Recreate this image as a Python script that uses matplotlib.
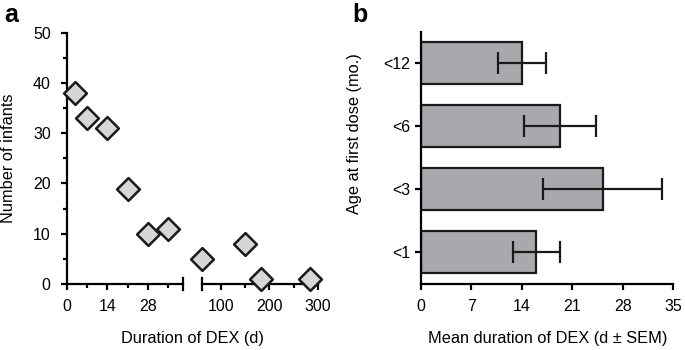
import matplotlib.pyplot as plt
import numpy as np

plt.rcParams["font.family"] = ["Liberation Sans", "DejaVu Sans"]

# panel a: duration of DEX (d) vs number of infants
dur_short = [3, 7, 14, 21, 28, 35]
n_short = [38, 33, 31, 19, 10, 11]
dur_long = [60, 150, 182, 285]
n_long = [5, 8, 1, 1]

# panel b: mean duration by age at first dose
age_groups = ["<1", "<3", "<6", "<12"]
mean_dur = [16.0, 25.2, 19.3, 14.0]
sem_dur = [3.3, 8.3, 5.0, 3.3]

fs = 11.5
lw = 1.6

fig = plt.figure(figsize=(6.85, 3.5), dpi=100)

bottom = (350 - 284) / 350
height = (284 - 32.7) / 350
ax1 = fig.add_axes([66.7 / 685, bottom, 116 / 685, height])
ax2 = fig.add_axes([201.7 / 685, bottom, 116 / 685, height], sharey=ax1)

mk = dict(marker="D", s=135, facecolor="#d6d6d6", edgecolor="#1a1a1a",
          linewidth=1.8, clip_on=False, zorder=5)
ax1.scatter(dur_short, n_short, **mk)
ax2.scatter(dur_long, n_long, **mk)

ax1.set_xlim(0, 40)
ax2.set_xlim(60, 300)
ax1.set_ylim(0, 50)
ax1.set_yticks(np.arange(0, 51, 10))
ax1.set_yticks(np.arange(5, 50, 10), minor=True)
ax1.set_xticks([0, 14, 28])
ax1.set_xticks([7, 21, 35], minor=True)
ax2.set_xticks([100, 200, 300])
ax2.set_xticks([150, 250], minor=True)

for ax in (ax1, ax2):
    for s in ("top", "right"):
        ax.spines[s].set_visible(False)
    ax.spines["bottom"].set_linewidth(lw)
    ax.spines["left"].set_linewidth(lw)
    ax.tick_params(which="major", length=4.5, width=lw, labelsize=fs)
    ax.tick_params(which="minor", length=3, width=lw)
    ax.tick_params(axis="x", pad=6)
    ax.tick_params(axis="y", pad=7)
ax2.spines["left"].set_visible(False)
ax2.tick_params(axis="y", which="both", left=False, labelleft=False)

# break caps
ax1.axvline(40, ymin=-0.025, ymax=0.025, color="black", lw=lw, clip_on=False)
ax2.axvline(60, ymin=-0.025, ymax=0.025, color="black", lw=lw, clip_on=False)

ax1.set_ylabel("Number of infants", fontsize=fs + 0.3)
ax1.yaxis.set_label_coords((16 - 66.7) / 116, 0.5)
fig.text(192.5 / 685, 1 - 342.5 / 350, "Duration of DEX (d)", fontsize=fs + 0.3,
         ha="center", va="baseline")
fig.text(4 / 685, 1 - 22.5 / 350, "a", fontsize=18, fontweight="bold",
         ha="left", va="baseline")

# panel b
ax3 = fig.add_axes([421 / 685, bottom, 252.3 / 685, 252.3 / 350])
ypos = np.arange(len(age_groups))
ax3.barh(ypos, mean_dur, height=0.667, color="#a9a9ad", edgecolor="#1a1a1a",
         linewidth=lw, zorder=2)
ax3.errorbar(mean_dur, ypos, xerr=sem_dur, fmt="none", ecolor="#1a1a1a",
             elinewidth=lw, capsize=8, capthick=lw, zorder=3)
ax3.set_xlim(0, 35)
ax3.set_ylim(-0.5, 3.5)
ax3.set_xticks(np.arange(0, 36, 7))
ax3.set_yticks(ypos)
ax3.set_yticklabels(age_groups)
for s in ("top", "right"):
    ax3.spines[s].set_visible(False)
ax3.spines["bottom"].set_linewidth(lw)
ax3.spines["left"].set_linewidth(lw)
ax3.tick_params(length=4.5, width=lw, labelsize=fs)
ax3.tick_params(axis="x", pad=6)
ax3.tick_params(axis="y", pad=3.5)
ax3.set_ylabel("Age at first dose (mo.)", fontsize=fs + 0.3)
ax3.yaxis.set_label_coords((362 - 421) / 252.3, 0.595)
fig.text(548 / 685, 1 - 342.5 / 350, "Mean duration of DEX (d \u00b1 SEM)",
         fontsize=fs + 0.3, ha="center", va="baseline")
fig.text(352 / 685, 1 - 22.5 / 350, "b", fontsize=18, fontweight="bold",
         ha="left", va="baseline")

fig.savefig("out.png", dpi=100)
